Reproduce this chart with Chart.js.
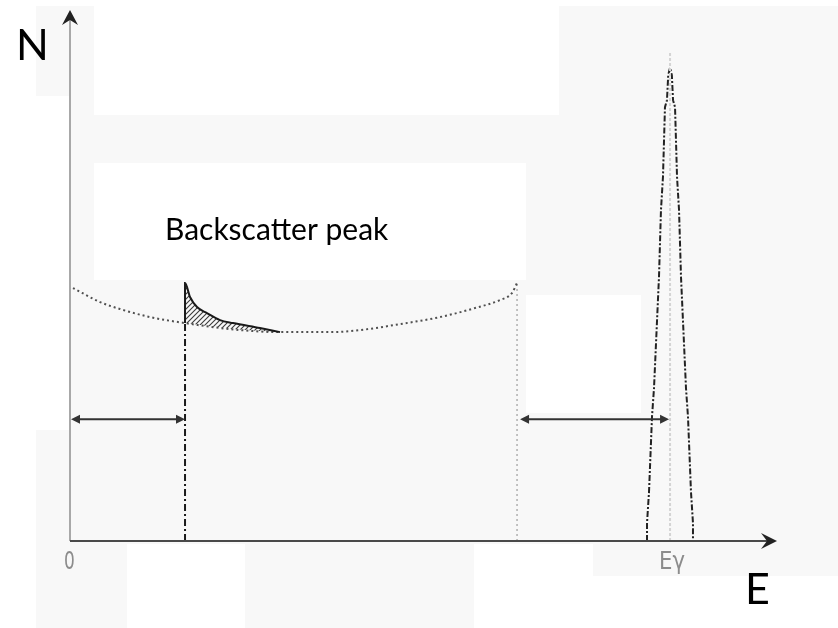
<!DOCTYPE html>
<html>
<head>
<meta charset="utf-8">
<script src="https://cdn.jsdelivr.net/npm/chart.js@4/dist/chart.umd.min.js"></script>
<style>
  html, body { margin: 0; padding: 0; background: #ffffff; }
  #wrap { width: 838px; height: 628px; position: relative; }
  canvas { display: block; }
</style>
</head>
<body>
<div id="wrap"><canvas id="spectrum" width="838" height="628"></canvas></div>
<script>
// Gamma-ray spectrum sketch: Compton continuum, backscatter peak, photopeak at Eγ.

// Compton continuum (dotted curve), energy vs counts
const continuumE = [3.3, 33.1, 55.2, 88.3, 126.9, 176.5, 231.7, 286.8, 319.9, 364.1, 408.2, 446.8, 474.4, 487.6, 493.2];
const continuumN = [50.5, 47.7, 46.3, 44.7, 43.5, 42.3, 41.7, 41.7, 42.1, 43.3, 44.7, 46.5, 48.1, 49.5, 51.5];

// Backscatter peak: upper edge and the continuum beneath it (hatched between)
const backscatterE     = [126.9, 126.9, 132.4, 140.1, 151.1, 165.5, 179.8, 209.6, 231.7];
const backscatterN     = [43.5, 51.5, 48.7, 46.7, 45.5, 44.1, 43.5, 42.5, 41.7];
const backscatterBaseN = [43.5, 43.5, 43.4, 43.2, 42.9, 42.6, 42.3, 41.9, 41.7];

// Photopeak outline
const photopeakE = [636.6, 636.6, 638.8, 642.1, 644.3, 649.8, 652.0, 654.2, 656.4, 658.6, 660.0, 662.0, 664.0, 665.3, 667.5, 669.7, 671.9, 674.1, 679.6, 681.8, 685.1, 687.3, 687.3];
const photopeakN = [0, 3.6, 9.8, 24.8, 30.5, 52.7, 66.1, 72.7, 86.6, 88.0, 93.0, 94.5, 93.0, 88.0, 86.6, 72.7, 66.1, 52.7, 30.5, 24.8, 9.8, 3.6, 0];

// Vertical markers: backscatter edge, Compton edge, Eγ
const markerE = [126.9, 493.2, 662.0];
const markerTopN = [43.5, 51.5, 97.6];

// Double-headed span arrows
const arrowFromE = [1.1, 496.5];
const arrowToE = [126.9, 660.9];
const arrowN = [24.3, 24.3];

// Axis tick labels
const tickE = [0, 662.0];
const tickLabels = ['0', 'Eγ'];

// Axis titles and annotation
const axisTitleX = 'E';
const axisTitleY = 'N';
const annotationText = 'Backscatter peak';
const annotationE = 104.8;
const annotationN = 60.1;

const E_MAX = 780;
const N_MAX = 106;

const pts = (xs, ys) => xs.map((x, i) => ({ x: x, y: ys[i] }));

// diagonal hatch pattern
function hatchPattern() {
  const p = document.createElement('canvas');
  p.width = 5; p.height = 5;
  const g = p.getContext('2d');
  g.strokeStyle = '#3a3a3a';
  g.lineWidth = 1.1;
  g.beginPath();
  g.moveTo(0, 5); g.lineTo(5, 0);
  g.moveTo(-1, 1); g.lineTo(1, -1);
  g.moveTo(4, 6); g.lineTo(6, 4);
  g.stroke();
  return g.createPattern(p, 'repeat');
}

// light grey backdrop panels with white cut-outs
const backdrop = {
  id: 'backdrop',
  beforeDraw(chart) {
    const ctx = chart.ctx;
    ctx.save();
    ctx.fillStyle = '#ffffff';
    ctx.fillRect(0, 0, chart.width, chart.height);
    const grey = '#f8f8f8';
    const greyRects = [
      [70, 6, 838, 544], [36, 6, 94, 96], [36, 430, 127, 628],
      [245, 544, 474, 628], [593, 544, 838, 576]
    ];
    const whiteRects = [[94, 6, 559, 115], [94, 163, 526, 280], [526, 295, 641, 413]];
    ctx.fillStyle = grey;
    greyRects.forEach(r => ctx.fillRect(r[0], r[1], r[2] - r[0], r[3] - r[1]));
    ctx.fillStyle = '#ffffff';
    whiteRects.forEach(r => ctx.fillRect(r[0], r[1], r[2] - r[0], r[3] - r[1]));
    ctx.restore();
  }
};

// draws text squeezed horizontally for a condensed look
function narrowText(ctx, text, x, y, squeeze) {
  ctx.save();
  ctx.translate(x, y);
  ctx.scale(squeeze, 1);
  ctx.fillText(text, 0, 0);
  ctx.restore();
}

// axes with arrowheads, span arrows, labels
const overlay = {
  id: 'overlay',
  afterDatasetsDraw(chart) {
    const ctx = chart.ctx;
    const xs = chart.scales.x, ys = chart.scales.y;
    const a = chart.chartArea;
    const x0 = xs.getPixelForValue(0), y0 = ys.getPixelForValue(0);
    ctx.save();

    // vertical axis
    ctx.strokeStyle = '#a8a8a8';
    ctx.lineWidth = 2;
    ctx.beginPath();
    ctx.moveTo(x0, y0); ctx.lineTo(x0, a.top + 8);
    ctx.stroke();
    ctx.fillStyle = '#222';
    ctx.beginPath();
    ctx.moveTo(x0, a.top);
    ctx.lineTo(x0 + 8, a.top + 15);
    ctx.lineTo(x0, a.top + 10);
    ctx.lineTo(x0 - 8, a.top + 15);
    ctx.closePath(); ctx.fill();

    // horizontal axis
    ctx.strokeStyle = '#4a4a4a';
    ctx.lineWidth = 2.2;
    ctx.beginPath();
    ctx.moveTo(x0, y0); ctx.lineTo(a.right - 8, y0);
    ctx.stroke();
    ctx.fillStyle = '#222';
    ctx.beginPath();
    ctx.moveTo(a.right, y0);
    ctx.lineTo(a.right - 16, y0 - 8);
    ctx.lineTo(a.right - 10, y0);
    ctx.lineTo(a.right - 16, y0 + 8);
    ctx.closePath(); ctx.fill();

    // span arrows
    ctx.strokeStyle = '#333';
    ctx.fillStyle = '#333';
    ctx.lineWidth = 2;
    arrowFromE.forEach((e, i) => {
      const xa = xs.getPixelForValue(e), xb = xs.getPixelForValue(arrowToE[i]);
      const y = ys.getPixelForValue(arrowN[i]);
      ctx.beginPath(); ctx.moveTo(xa + 4, y); ctx.lineTo(xb - 4, y); ctx.stroke();
      ctx.beginPath(); ctx.moveTo(xa, y); ctx.lineTo(xa + 9, y - 4.5); ctx.lineTo(xa + 9, y + 4.5); ctx.closePath(); ctx.fill();
      ctx.beginPath(); ctx.moveTo(xb, y); ctx.lineTo(xb - 9, y - 4.5); ctx.lineTo(xb - 9, y + 4.5); ctx.closePath(); ctx.fill();
    });

    // tick labels
    ctx.fillStyle = '#8c8c8c';
    ctx.font = '25px "DejaVu Sans", sans-serif';
    ctx.textBaseline = 'alphabetic';
    ctx.textAlign = 'left';
    narrowText(ctx, tickLabels[0], xs.getPixelForValue(tickE[0]) - 6, y0 + 28, 0.68);
    narrowText(ctx, tickLabels[1], xs.getPixelForValue(tickE[1]) - 11, y0 + 28, 0.85);

    // axis titles
    ctx.fillStyle = '#000';
    ctx.font = '43px Lato, "Open Sans", sans-serif';
    ctx.textAlign = 'left';
    ctx.fillText(axisTitleY, 16, 60);
    ctx.fillText(axisTitleX, 745, 604);

    // annotation
    ctx.font = '30px Lato, "Open Sans", sans-serif';
    ctx.fillText(annotationText, xs.getPixelForValue(annotationE), ys.getPixelForValue(annotationN));
    ctx.restore();
  }
};

const thin = { pointRadius: 0, pointHoverRadius: 0, fill: false, tension: 0 };

new Chart(document.getElementById('spectrum'), {
  type: 'line',
  data: {
    datasets: [
      Object.assign({}, thin, {
        label: 'continuum under backscatter',
        data: pts(backscatterE, backscatterBaseN),
        borderWidth: 0, borderColor: 'rgba(0,0,0,0)'
      }),
      Object.assign({}, thin, {
        label: 'backscatter peak',
        data: pts(backscatterE, backscatterN),
        borderColor: '#1a1a1a', borderWidth: 2,
        fill: '-1', backgroundColor: hatchPattern(),
        cubicInterpolationMode: 'monotone', tension: 0.4
      }),
      Object.assign({}, thin, {
        label: 'Compton continuum',
        data: pts(continuumE, continuumN),
        borderColor: '#505050', borderWidth: 2, borderDash: [2, 3],
        cubicInterpolationMode: 'monotone', tension: 0.4
      }),
      Object.assign({}, thin, {
        label: 'backscatter edge',
        data: pts([markerE[0], markerE[0]], [0, markerTopN[0]]),
        borderColor: '#1a1a1a', borderWidth: 2, borderDash: [7, 3, 2, 3]
      }),
      Object.assign({}, thin, {
        label: 'Compton edge',
        data: pts([markerE[1], markerE[1]], [0, markerTopN[1]]),
        borderColor: '#b4b4b4', borderWidth: 1.6, borderDash: [2, 3]
      }),
      Object.assign({}, thin, {
        label: 'Eγ',
        data: pts([markerE[2], markerE[2]], [0, markerTopN[2]]),
        borderColor: '#d4d4d4', borderWidth: 2, borderDash: [3, 2]
      }),
      Object.assign({}, thin, {
        label: 'photopeak',
        data: pts(photopeakE, photopeakN),
        borderColor: '#222222', borderWidth: 2, borderDash: [6, 2, 2, 2]
      })
    ]
  },
  options: {
    responsive: false,
    devicePixelRatio: 1,
    animation: false,
    layout: { padding: { left: 70, right: 61, top: 10, bottom: 87 } },
    plugins: { legend: { display: false }, tooltip: { enabled: false } },
    scales: {
      x: { type: 'linear', min: 0, max: E_MAX, display: false },
      y: { type: 'linear', min: 0, max: N_MAX, display: false }
    }
  },
  plugins: [backdrop, overlay]
});
</script>
</body>
</html>
